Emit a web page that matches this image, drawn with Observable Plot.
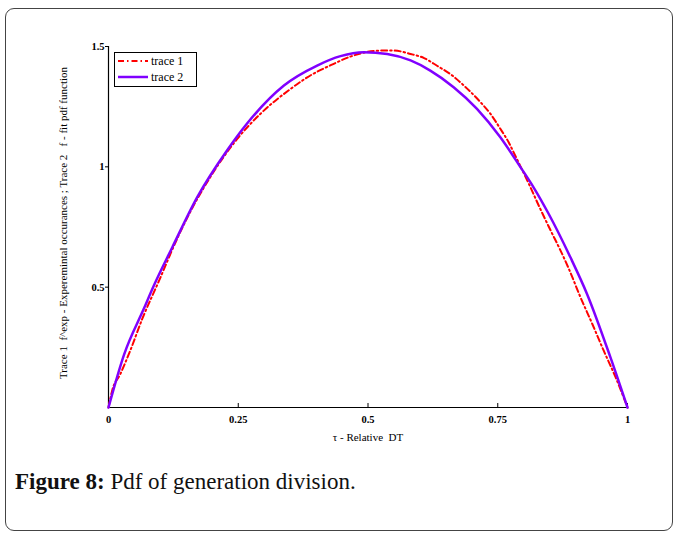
<!DOCTYPE html>
<html>
<head>
<meta charset="utf-8">
<script src="https://cdn.jsdelivr.net/npm/d3@7"></script>
<script src="https://cdn.jsdelivr.net/npm/@observablehq/plot@0.6"></script>
<style>
  body { margin: 0; background: #fff; }
  #wrap { position: relative; width: 677px; height: 534px; overflow: hidden; font-family: "Liberation Serif", serif; }
  #frame { position: absolute; left: 5px; top: 8px; width: 666px; height: 521px; border: 1px solid #444; border-radius: 9px; }
  #chart { position: absolute; left: 0; top: 0; }
  #legend { position: absolute; left: 114px; top: 52px; width: 81px; height: 33px; border: 1px solid #000; background: #fff; }
  #caption { position: absolute; left: 15px; top: 469px; font-size: 23px; color: #111; }
</style>
</head>
<body>
<div id="wrap">
  <div id="frame"></div>
  <div id="chart"></div>
  <div id="legend">
    <svg width="81" height="33" style="position:absolute;left:0;top:0">
      <line x1="3" x2="33" y1="8" y2="8" stroke="#ff0000" stroke-width="2" stroke-dasharray="6,3,1.5,3"></line>
      <text x="36" y="12" font-size="12" font-family="Liberation Serif">trace 1</text>
      <line x1="3" x2="33" y1="24" y2="24" stroke="#8000ff" stroke-width="2.5"></line>
      <text x="36" y="28" font-size="12" font-family="Liberation Serif">trace 2</text>
    </svg>
  </div>
  <div id="caption"><b>Figure 8:</b> Pdf of generation division.</div>
</div>
<script>
const trace1X = [0, 0.007, 0.023, 0.042, 0.065, 0.097, 0.132, 0.158, 0.19, 0.248, 0.296, 0.351, 0.383, 0.434, 0.466, 0.524, 0.55, 0.582, 0.608, 0.633, 0.662, 0.691, 0.717, 0.736, 0.755, 0.771, 0.784, 0.81, 0.832, 0.852, 0.871, 0.887, 0.909, 0.932, 0.954, 0.977, 1];
const trace1Y = [0, 0.07, 0.14, 0.237, 0.368, 0.525, 0.7, 0.815, 0.936, 1.116, 1.227, 1.324, 1.372, 1.428, 1.458, 1.483, 1.483, 1.469, 1.452, 1.42, 1.38, 1.325, 1.268, 1.22, 1.158, 1.102, 1.045, 0.929, 0.825, 0.735, 0.652, 0.576, 0.46, 0.348, 0.237, 0.126, 0];
const trace2X = [0, 0.03, 0.068, 0.087, 0.123, 0.171, 0.229, 0.267, 0.338, 0.402, 0.447, 0.492, 0.537, 0.582, 0.62, 0.665, 0.71, 0.755, 0.794, 0.819, 0.848, 0.89, 0.922, 0.967, 1];
const trace2Y = [0, 0.22, 0.41, 0.505, 0.666, 0.874, 1.07, 1.18, 1.338, 1.421, 1.46, 1.476, 1.469, 1.442, 1.4, 1.331, 1.241, 1.123, 0.998, 0.915, 0.805, 0.624, 0.472, 0.209, 0];
const xTicks = [0, 0.25, 0.5, 0.75, 1];
const xTickLabels = ["0", "0.25", "0.5", "0.75", "1"];
const yTicks = [0.5, 1, 1.5];
const yTickLabels = ["0.5", "1", "1.5"];
const xLabel = "\u03c4 - Relative\u00a0\u00a0DT";
const yLabel = "Trace 1\u00a0\u00a0f^exp - Experemintal occurances ; Trace 2\u00a0\u00a0\u00a0f - fit pdf function";

const t1 = trace1X.map((x, i) => ({x, y: trace1Y[i]}));
const t2 = trace2X.map((x, i) => ({x, y: trace2Y[i]}));

const chart = Plot.plot({
  width: 677,
  height: 450,
  marginLeft: 108,
  marginRight: 50,
  marginTop: 46,
  marginBottom: 43,
  style: { fontFamily: "Liberation Serif", fontSize: "10.5px", color: "#000", background: "transparent" },
  x: { domain: [0, 1] },
  y: { domain: [0, 1.5] },
  marks: [
    Plot.ruleY([0], { stroke: "#000", strokeWidth: 1.2 }),
    Plot.ruleX([0], { stroke: "#000", strokeWidth: 1.2 }),
    Plot.axisX({ ticks: xTicks, tickFormat: (d, i) => xTickLabels[i], tickSize: -4, tickPadding: 12, fontWeight: "bold", label: null }),
    Plot.axisY({ ticks: yTicks, tickFormat: (d, i) => yTickLabels[i], tickSize: 3, tickPadding: 1, fontWeight: "bold", label: null }),
    Plot.line(t1, { x: "x", y: "y", stroke: "#ff0000", strokeWidth: 2, strokeDasharray: "6,3,1.5,3", curve: "monotone-x" }),
    Plot.line(t2, { x: "x", y: "y", stroke: "#8000ff", strokeWidth: 2.5, curve: "monotone-x" }),
    Plot.text([xLabel], { frameAnchor: "bottom", dy: 33, fontSize: 11 }),
    Plot.text([yLabel], { frameAnchor: "left", textAnchor: "middle", dx: -45, dy: -4, rotate: -90, fontSize: 11 })
  ]
});
document.getElementById("chart").appendChild(chart);
</script>
</body>
</html>
